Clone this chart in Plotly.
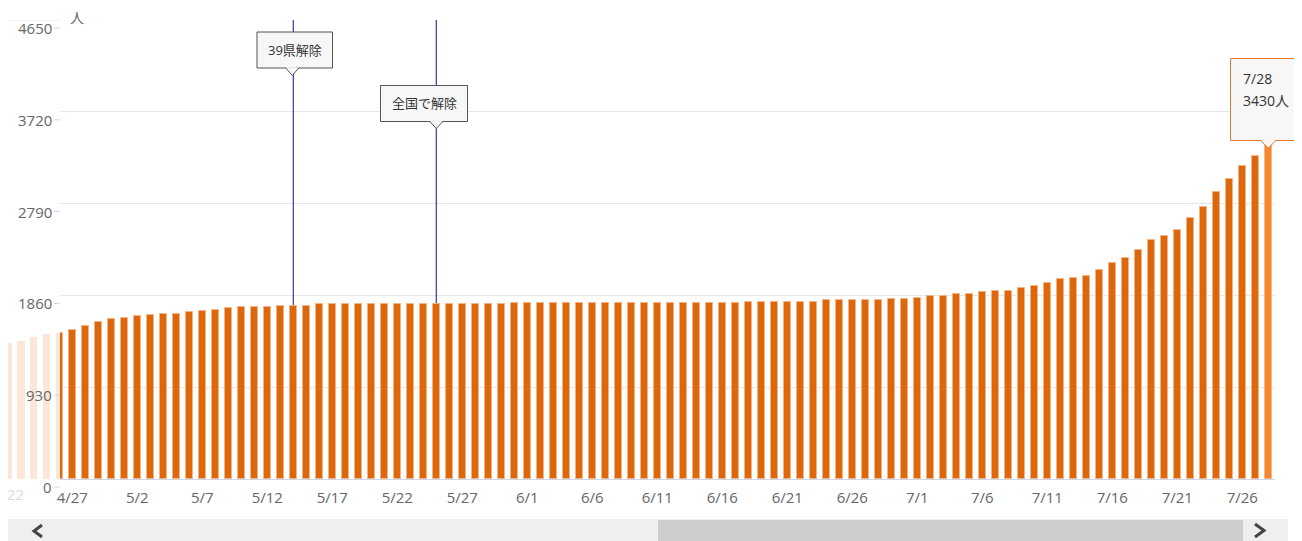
import datetime as dt
import plotly.graph_objects as go

# ---------------- data ----------------
START_DATE = dt.date(2020, 4, 22)
values = [
    1377, 1400, 1441, 1471, 1484,                      # 4/22 - 4/26
    1512, 1552, 1590, 1620, 1631, 1651, 1664, 1674, 1674, 1687,   # 4/27 - 5/6
    1702, 1715, 1728, 1742, 1742, 1742, 1755, 1755, 1755, 1769,   # 5/7 - 5/16
    1769, 1769, 1769, 1769, 1769, 1769, 1769, 1769, 1769, 1769,   # 5/17 - 5/26
    1769, 1769, 1769, 1769,                                        # 5/27 - 5/30
    1783, 1783, 1783, 1783, 1783, 1783, 1783, 1783, 1783, 1783,   # 5/31 - 6/9
    1783, 1783, 1783, 1783, 1783, 1783, 1783, 1783,               # 6/10 - 6/17
    1796, 1796, 1796, 1796, 1796, 1796,                           # 6/18 - 6/23
    1809, 1809, 1809, 1809, 1809,                                 # 6/24 - 6/28
    1823, 1823, 1837, 1850, 1850, 1877, 1877, 1890, 1904, 1904,   # 6/29 - 7/8
    1931, 1958, 1986, 2026, 2040, 2053, 2121, 2189, 2242, 2324,   # 7/9 - 7/18
    2418, 2459, 2527, 2648, 2757, 2909, 3041, 3176, 3270, 3430,   # 7/19 - 7/28
]
dates = [START_DATE + dt.timedelta(days=k) for k in range(len(values))]
date_labels = [f"{d.month}/{d.day}" for d in dates]
idx = list(range(len(values)))

events = [("39県解除", "5/14"), ("全国で解除", "5/25")]
y_ticks = [0, 930, 1860, 2790, 3720, 4650]
unit_label = "人"

# ---------------- geometry (screen pixels) ----------------
OFF = 8                      # default page margin of the html body
SCREEN_W, SCREEN_H = 1302, 541
FIG_W, FIG_H = SCREEN_W - OFF, SCREEN_H - OFF
PLOT_LEFT, PLOT_RIGHT = 8, 1275      # screen x
PLOT_TOP, PLOT_BOTTOM = 20, 479      # screen y
M_L = PLOT_LEFT - OFF
M_R = SCREEN_W - PLOT_RIGHT
M_T = PLOT_TOP - OFF
M_B = SCREEN_H - PLOT_BOTTOM
PW = PLOT_RIGHT - PLOT_LEFT
PH = PLOT_BOTTOM - PLOT_TOP
AXIS_PX = 60
DAY_PX = 13.0
REF_PX = 72.3   # screen x of the 4/27 bar
REF_I = date_labels.index("4/27")
Y_MAX = y_ticks[-1]


def idx_to_px(i):
    return REF_PX + (i - REF_I) * DAY_PX


def px_to_idx(px):
    return REF_I + (px - REF_PX) / DAY_PX


def val_to_py(v):
    return PLOT_BOTTOM - v / Y_MAX * PH


def px_x(px):
    return (px - PLOT_LEFT) / PW


def px_y(py):
    return (PLOT_BOTTOM - py) / PH


BAR = "#dc670d"
BAR_HI = "#f4862f"
FADED = "#fce6d8"
FONT = "Open Sans, Noto Sans CJK JP, sans-serif"
TICK_FONT = dict(size=15, color="#666", family=FONT)

last = len(values) - 1
colors = [BAR] * len(values)
colors[last] = BAR_HI

fig = go.Figure()
fig.add_trace(go.Bar(
    x=idx, y=values, width=0.56,
    marker=dict(color=colors, line=dict(color="rgba(246,178,130,0.9)", width=1)),
    xaxis="x", yaxis="y", hoverinfo="skip", showlegend=False,
))
fig.add_trace(go.Bar(
    x=idx, y=values, width=0.56,
    marker=dict(color=FADED, line=dict(width=0)),
    xaxis="x2", yaxis="y2", hoverinfo="skip", showlegend=False,
))

main_ticks = list(range(REF_I, len(values), 5))
first_visible = 0

fig.update_layout(
    width=FIG_W, height=FIG_H,
    margin=dict(l=M_L, r=M_R, t=M_T, b=M_B, pad=0, autoexpand=False),
    paper_bgcolor="white", plot_bgcolor="white",
    font=dict(family=FONT, color="#666"),
    bargap=0,
    xaxis=dict(
        domain=[px_x(AXIS_PX), 1],
        range=[px_to_idx(AXIS_PX), px_to_idx(PLOT_RIGHT)],
        tickvals=main_ticks, ticktext=[date_labels[i] for i in main_ticks],
        tickfont=TICK_FONT, automargin=False,
        showgrid=False, zeroline=False,
        showline=True, linecolor="#ccd6eb", linewidth=1,
        ticks="", ticklabelstandoff=5, anchor="y",
    ),
    xaxis2=dict(
        domain=[0, px_x(AXIS_PX)],
        range=[min(px_to_idx(PLOT_LEFT), first_visible - 0.02), px_to_idx(AXIS_PX)],
        tickvals=[first_visible], ticktext=[date_labels[first_visible]],
        tickfont=dict(size=15, color="#dcdcdc", family=FONT),
        ticklabeloverflow="allow", automargin=False,
        showgrid=False, zeroline=False, showline=False,
        ticks="", ticklabelstandoff=5, anchor="y2",
    ),
    yaxis=dict(
        range=[0, Y_MAX], tickvals=y_ticks,
        showticklabels=False, automargin=False,
        showgrid=True, gridcolor="#e6e6e6", gridwidth=1,
        zeroline=False, showline=False, ticks="", anchor="x",
    ),
    yaxis2=dict(
        range=[0, Y_MAX], showgrid=False, zeroline=False, automargin=False,
        showticklabels=False, showline=False, anchor="x2",
    ),
    hovermode=False,
)

shapes = []
annotations = []

# top grid line reaches the left edge
shapes.append(dict(type="line", xref="paper", yref="y",
                   x0=px_x(8), x1=px_x(AXIS_PX), y0=Y_MAX, y1=Y_MAX,
                   line=dict(color="#e6e6e6", width=1), layer="below"))

# y tick labels (drawn above the faded bars) with small tick dashes
for v in y_ticks:
    ly = val_to_py(v) + 8
    annotations.append(dict(xref="paper", yref="paper", x=px_x(54), y=px_y(ly),
                            xanchor="right", yanchor="middle", text=str(v),
                            showarrow=False, font=TICK_FONT))
    shapes.append(dict(type="line", xref="paper", yref="paper",
                       x0=px_x(54), x1=px_x(60), y0=px_y(ly), y1=px_y(ly),
                       line=dict(color="#ccd6eb", width=1)))

# event lines
for text, lab in events:
    i = date_labels.index(lab)
    shapes.append(dict(type="line", xref="x", yref="y", x0=i, x1=i, y0=0, y1=Y_MAX,
                       line=dict(color="#3636a6", width=1.2), layer="between"))


def callout(x0, x1, y0, y1, tip_x, tip_y, half_w, border, fill="#f7f7f7"):
    shapes.append(dict(type="rect", xref="paper", yref="paper",
                       x0=px_x(x0), x1=px_x(x1), y0=px_y(y1), y1=px_y(y0),
                       line=dict(color=border, width=1), fillcolor=fill, layer="above"))
    tri = (f"M {px_x(tip_x - half_w)},{px_y(y1 - 0.8)} L {px_x(tip_x)},{px_y(tip_y)} "
           f"L {px_x(tip_x + half_w)},{px_y(y1 - 0.8)} Z")
    shapes.append(dict(type="path", xref="paper", yref="paper", path=tri,
                       fillcolor=fill, line=dict(width=0), layer="above"))
    edge = (f"M {px_x(tip_x - half_w)},{px_y(y1)} L {px_x(tip_x)},{px_y(tip_y)} "
            f"L {px_x(tip_x + half_w)},{px_y(y1)}")
    shapes.append(dict(type="path", xref="paper", yref="paper", path=edge,
                       fillcolor="rgba(0,0,0,0)", line=dict(color=border, width=1),
                       layer="above"))


def label(x, y, text, size, anchor="center", color="#333"):
    annotations.append(dict(xref="paper", yref="paper", x=px_x(x), y=px_y(y),
                            xanchor=anchor, yanchor="middle", text=text,
                            showarrow=False,
                            font=dict(size=size, color=color, family=FONT)))


# "39県解除"
i1 = date_labels.index(events[0][1])
callout(257, 332.5, 32, 68, idx_to_px(i1) - 1, 75.5, 6.5, "#555555")
label(294.7, 50, events[0][0], 13)
# "全国で解除"
i2 = date_labels.index(events[1][1])
callout(380.5, 467.5, 85.5, 121.5, idx_to_px(i2), 128.5, 6.5, "#555555")
label(424, 103.5, events[1][0], 13)

# tooltip for last bar
callout(1230.5, 1315, 58.5, 140.5, idx_to_px(last), 148.3, 7.5, "#e8792c")
label(1241, 79, date_labels[last], 14, anchor="left")
label(1241, 100, f"{values[last]}{unit_label}", 14, anchor="left")

# unit label
label(77, 18, unit_label, 14, color="#666")

# scrollbar
shapes.append(dict(type="rect", xref="paper", yref="paper",
                   x0=px_x(8), x1=px_x(1288), y0=px_y(541), y1=px_y(519),
                   fillcolor="#efefef", line=dict(width=0), layer="above"))
shapes.append(dict(type="rect", xref="paper", yref="paper",
                   x0=px_x(658), x1=px_x(1243), y0=px_y(541), y1=px_y(520),
                   fillcolor="#cdcdcd", line=dict(width=0), layer="above"))
shapes.append(dict(type="path", xref="paper", yref="paper",
                   path=f"M {px_x(42)},{px_y(525)} L {px_x(34)},{px_y(531)} L {px_x(42)},{px_y(537)}",
                   fillcolor="rgba(0,0,0,0)", line=dict(color="#444", width=3), layer="above"))
shapes.append(dict(type="path", xref="paper", yref="paper",
                   path=f"M {px_x(1255)},{px_y(524)} L {px_x(1264)},{px_y(530.5)} L {px_x(1255)},{px_y(537)}",
                   fillcolor="rgba(0,0,0,0)", line=dict(color="#444", width=3), layer="above"))

fig.update_layout(shapes=shapes, annotations=annotations)

fig.write_html("out.html", config={"displayModeBar": False})
